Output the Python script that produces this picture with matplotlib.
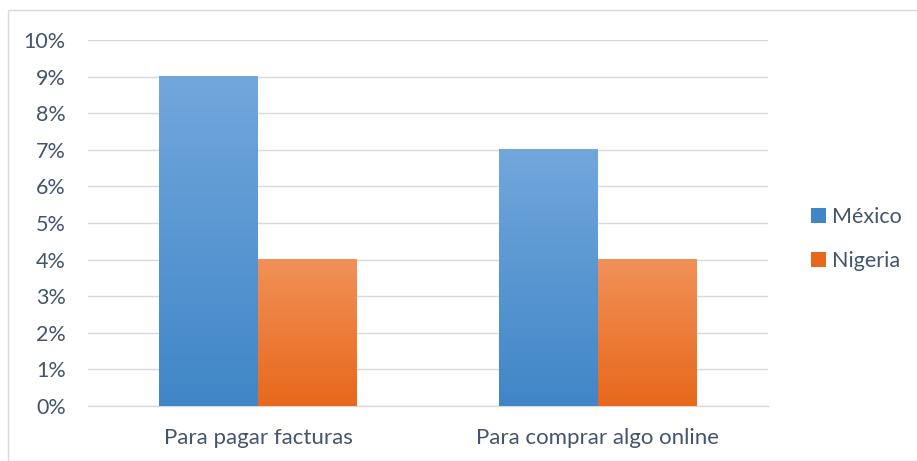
import matplotlib
matplotlib.use("Agg")
import matplotlib.pyplot as plt
import numpy as np
from matplotlib.colors import LinearSegmentedColormap
from matplotlib.patches import Rectangle

categories = ["Para pagar facturas", "Para comprar algo online"]
series = ["México", "Nigeria"]
mexico = [9, 7]
nigeria = [4, 4]
yticks = [0, 1, 2, 3, 4, 5, 6, 7, 8, 9, 10]

text_color = "#44546A"
grid_color = "#D9D9D9"
# (top colour, bottom colour) for the vertical gradient
grads = [("#72A7DC", "#4086C7"), ("#F19158", "#E7681B")]

plt.rcParams["font.family"] = ["Lato", "DejaVu Sans"]

fig = plt.figure(figsize=(9.17, 4.61), dpi=100)
# outer chart frame
fig.patches.append(Rectangle((8 / 917, 0), 1, 1 - 10 / 461, transform=fig.transFigure,
                             fill=False, edgecolor="#D9D9D9", linewidth=1))
ax = fig.add_axes([88 / 917, 55 / 461, 680 / 917, 366 / 461])

x = np.arange(len(categories))
w = 0.29
for i, (vals, (top, bot)) in enumerate(zip([mexico, nigeria], grads)):
    offs = (i - 0.5) * w
    bars = ax.bar(x + offs, vals, w, color=bot, zorder=2, label=series[i])
    cmap = LinearSegmentedColormap.from_list("g", [bot, top])
    for b in bars:
        x0, y0 = b.get_x(), b.get_y()
        h = b.get_height()
        grad = np.linspace(0, 1, 256).reshape(-1, 1)
        ax.imshow(grad, cmap=cmap, origin="lower", aspect="auto",
                  extent=[x0, x0 + b.get_width(), y0, y0 + h], zorder=3)

ax.set_xlim(-0.5, 1.5)
ax.set_ylim(0, 10)
ax.set_yticks(yticks)
ax.set_yticklabels([f"{t}%" for t in yticks])
ax.set_xticks(x)
ax.set_xticklabels(categories)
ax.grid(axis="y", color=grid_color, linewidth=1, zorder=0)
for s in ["top", "right", "left"]:
    ax.spines[s].set_visible(False)
ax.spines["bottom"].set_color(grid_color)
ax.spines["bottom"].set_linewidth(1)
ax.tick_params(axis="both", length=0, colors=text_color, labelsize=15.5)
ax.tick_params(axis="x", labelsize=16, pad=16)
ax.tick_params(axis="y", pad=16)

handles = [Rectangle((0, 0), 1, 1, facecolor=c[1]) for c in grads]
leg = ax.legend(handles, series, loc="center left", bbox_to_anchor=(1.035, 0.456),
                frameon=False, fontsize=15.5, handlelength=0.7, handleheight=0.7,
                handletextpad=0.25, labelspacing=1.1, labelcolor=text_color)

fig.savefig("out.png", dpi=100)
